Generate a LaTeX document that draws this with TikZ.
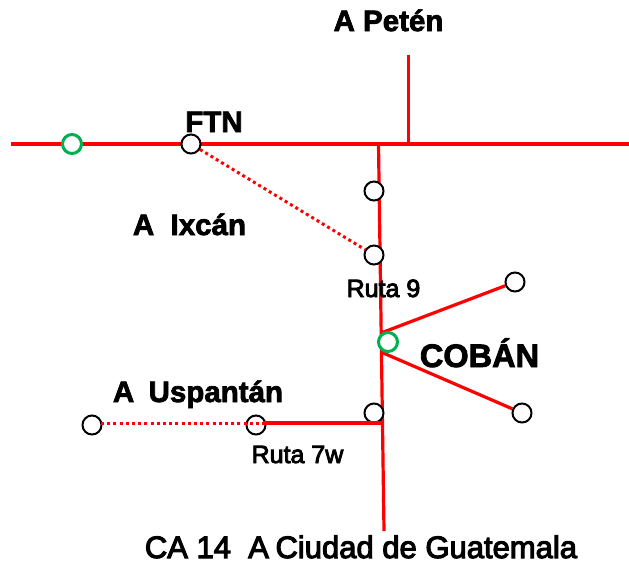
\documentclass[tikz,border=0pt]{standalone}
\usepackage{fontspec}
\setmainfont{Liberation Sans}
\newfontfamily\semi[FakeBold=3.5]{Liberation Sans}
\newfontfamily\heavy[FakeBold=2.5]{Liberation Sans Bold}
\definecolor{road}{RGB}{255,0,0}
\definecolor{stopc}{RGB}{0,176,80}
\tikzset{
  x=1pt,y=-1pt,
  road/.style={draw=road,line width=3.2pt},
  roadthin/.style={draw=road,line width=3pt},
  dots/.style={draw=road,line width=3pt,dash pattern=on 3pt off 3.2pt},
  town/.style={circle,draw=black,fill=white,line width=2pt,minimum size=19pt,inner sep=0pt},
  hub/.style={circle,draw=stopc,fill=white,line width=3pt,minimum size=19pt,inner sep=0pt},
  big/.style={inner sep=0pt,font=\heavy\fontsize{29.5}{30}\selectfont,text=black},
  bigger/.style={inner sep=0pt,font=\heavy\fontsize{32.5}{34}\selectfont,text=black},
  small/.style={inner sep=0pt,font=\semi\fontsize{25}{28}\selectfont,text=black},
  caption/.style={inner sep=0pt,font=\semi\fontsize{31}{32}\selectfont,text=black},
}
\begin{document}
\begin{tikzpicture}
\useasboundingbox (0,0) rectangle (629,563);
\coordinate (w) at (11,144);
\coordinate (e) at (629,144);
\coordinate (pn) at (408,55);
\coordinate (ps) at (408,144);
\coordinate (vn) at (378.5,144);
\coordinate (vs) at (384,531);
\coordinate (bu) at (381,333);
\coordinate (bd) at (381,352);
\coordinate (j7) at (382,423);
\coordinate (l7) at (263,423);
\coordinate (l7w) at (101,423);
\draw[road] (w) -- (e);
\draw[roadthin] (pn) -- (ps);
\draw[road] (vn) -- (vs);
\node[hub] (g1) at (72,144) {};
\node[town] (ftn) at (191,144) {};
\node[town] (n1) at (374,191) {};
\node[town] (n2) at (374,255) {};
\node[town] (ne) at (515,282) {};
\node[town] (se) at (522,413) {};
\node[town] (n3) at (374,413) {};
\node[town] (n7) at (256,425) {};
\node[town] (n8) at (92,425) {};
\draw[road] (bu) -- (ne);
\draw[road] (bd) -- (se);
\draw[road] (j7) -- (l7);
\draw[dots] (ftn) -- (n2);
\draw[dots] (l7w) -- (l7);
\node[hub] (g2) at (388,342) {};
\node[big,anchor=base] (t1) at (388.5,31) {A Petén};
\node[big,anchor=base] (t2) at (214,132) {FTN};
\node[big,anchor=base] (t3) at (189.5,235) {A\ \ Ixcán};
\node[small,anchor=base] (t4) at (383.5,297) {Ruta 9};
\node[bigger,anchor=base] (t5) at (479.5,367) {COBÁN};
\node[big,anchor=base] (t6) at (198,402) {A\ \ \kern-2pt Uspantán};
\node[small,anchor=base] (t7) at (297.5,463) {Ruta 7w};
\node[caption,anchor=base] (t8) at (361,558) {CA 14\ \ A\kern-2pt\ Ciudad de Guatemala};
\end{tikzpicture}
\end{document}
